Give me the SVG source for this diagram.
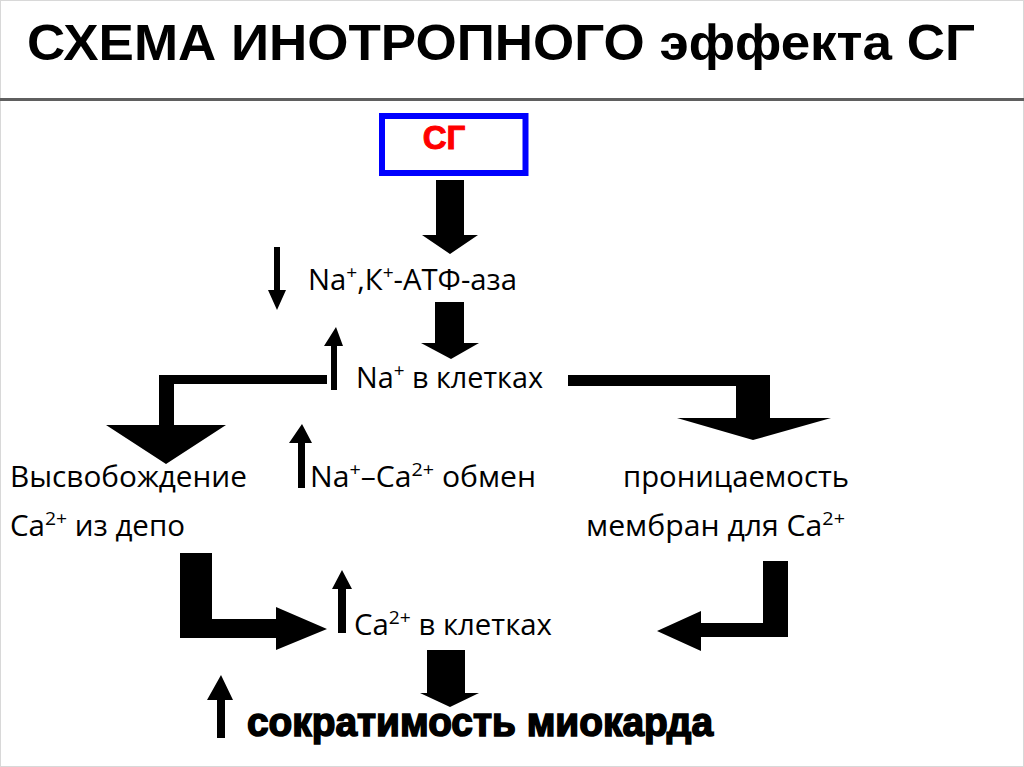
<svg xmlns="http://www.w3.org/2000/svg" width="1024" height="767" viewBox="0 0 1024 767">
<style>
.t{font-family:"Open Sans","Liberation Sans",sans-serif;font-size:29px;fill:#000}
.sup{font-size:19px}
.arr{fill:#000}
</style>
<rect x="0" y="0" width="1024" height="767" fill="#fff"/>
<rect x="0.5" y="0.5" width="1023" height="766" fill="none" stroke="#d8d8d8" stroke-width="1"/>
<g id="title">
<text x="27" y="60" font-family="'Liberation Sans Narrow','Liberation Sans',sans-serif" font-weight="bold" font-size="50" textLength="948" lengthAdjust="spacingAndGlyphs">СХЕМА ИНОТРОПНОГО эффекта СГ</text>
<line x1="0" y1="99.5" x2="1024" y2="99.5" stroke="#5f5f5f" stroke-width="3"/>
</g>
<g id="sg">
<rect x="382" y="116" width="143.5" height="57" fill="#fff" stroke="#0000ff" stroke-width="6"/>
<text x="444" y="149" text-anchor="middle" font-family="'Liberation Sans',sans-serif" font-weight="bold" font-size="33" fill="#ff0000" stroke="#ff0000" stroke-width="1">СГ</text>
</g>
<g id="atpase">
<text class="t" x="308" y="290" textLength="209" lengthAdjust="spacingAndGlyphs">Na<tspan class="sup" dy="-11">+</tspan><tspan dy="11">,К</tspan><tspan class="sup" dy="-11">+</tspan><tspan dy="11">-АТФ-аза</tspan></text>
</g>
<g id="na-cells">
<text class="t" x="356" y="388" textLength="187" lengthAdjust="spacingAndGlyphs">Na<tspan class="sup" dy="-11">+</tspan><tspan dy="11"> в клетках</tspan></text>
</g>
<g id="release">
<text class="t" x="10" y="487" textLength="237" lengthAdjust="spacingAndGlyphs">Высвобождение</text>
<text class="t" x="10" y="536" textLength="175" lengthAdjust="spacingAndGlyphs">Ca<tspan class="sup" dy="-11">2+</tspan><tspan dy="11"> из депо</tspan></text>
</g>
<g id="exchange">
<text class="t" x="310" y="487" textLength="226" lengthAdjust="spacingAndGlyphs">Na<tspan class="sup" dy="-11">+</tspan><tspan dy="11">–Ca</tspan><tspan class="sup" dy="-11">2+</tspan><tspan dy="11"> обмен</tspan></text>
</g>
<g id="permeability">
<text class="t" x="623" y="487" textLength="226" lengthAdjust="spacingAndGlyphs">проницаемость</text>
<text class="t" x="586" y="536" textLength="259" lengthAdjust="spacingAndGlyphs">мембран для Ca<tspan class="sup" dy="-11">2+</tspan></text>
</g>
<g id="ca-cells">
<text class="t" x="354" y="635" textLength="198" lengthAdjust="spacingAndGlyphs">Ca<tspan class="sup" dy="-11">2+</tspan><tspan dy="11"> в клетках</tspan></text>
</g>
<g id="contractility">
<text x="247" y="736" font-family="'Liberation Sans',sans-serif" font-weight="bold" font-size="40" stroke="#000" stroke-width="1.6" textLength="466" lengthAdjust="spacingAndGlyphs">сократимость миокарда</text>
</g>
<g id="connectors" class="arr">
<polygon points="436,180 464,180 464,235 478,235 450,254 422,235 436,235"/>
<polygon points="435,302 464,302 464,343 479,343 451,359 421,343 435,343"/>
<polygon points="274,247 280,247 280,290 286,290 277,310 268,290 274,290"/>
<polygon points="331,390 337,390 337,346 343,346 336,327 324,346 331,346"/>
<polygon points="327,375 159,375 159,425 106,425 166,464 226,425 174,425 174,384 327,384"/>
<polygon points="568,375 770,375 770,418 831,418 753,440 677,418 736,418 736,386 568,386"/>
<polygon points="298,488 305,488 305,443 312,443 302,424 289,443 298,443"/>
<polygon points="180,553 212,553 212,619 276,619 276,607 327,629 276,650 276,638 180,638"/>
<polygon points="338,633 346,633 346,589 352,589 342,570 332,589 338,589"/>
<polygon points="788,561 763,561 763,623 701,623 701,611 657,631 701,651 701,637 788,637"/>
<polygon points="217,738 225,738 225,700 233,700 221,675 207,700 217,700"/>
<polygon points="427,650 465,650 465,693 479,693 450,707 420,693 427,693"/>
</g>
</svg>
